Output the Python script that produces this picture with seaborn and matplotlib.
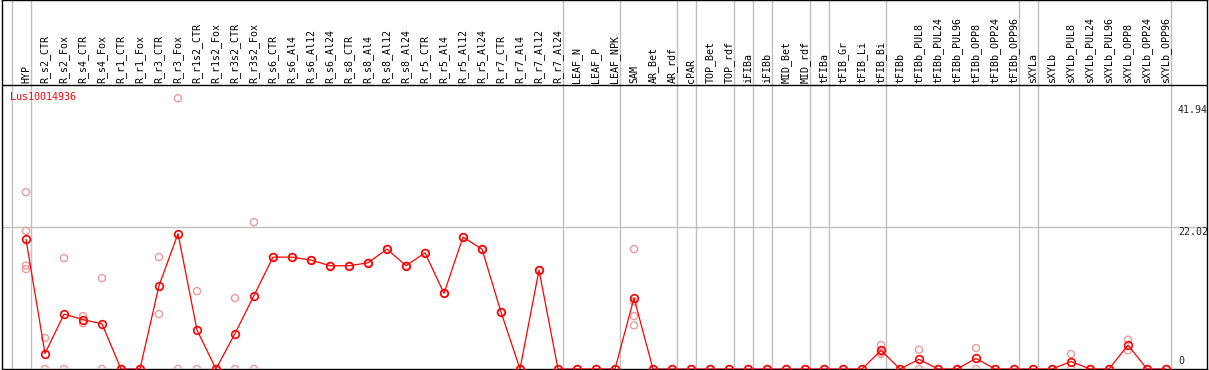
import pandas as pd
import matplotlib.pyplot as plt
import seaborn as sns

# Sample labels (one column each)
labels = ['HYP', 'R_s2_CTR', 'R_s2_Fox', 'R_s4_CTR', 'R_s4_Fox', 'R_r1_CTR', 'R_r1_Fox',
          'R_r3_CTR', 'R_r3_Fox', 'R_r1s2_CTR', 'R_r1s2_Fox', 'R_r3s2_CTR', 'R_r3s2_Fox',
          'R_s6_CTR', 'R_s6_Al4', 'R_s6_Al12', 'R_s6_Al24', 'R_s8_CTR', 'R_s8_Al4',
          'R_s8_Al12', 'R_s8_Al24', 'R_r5_CTR', 'R_r5_Al4', 'R_r5_Al12', 'R_r5_Al24',
          'R_r7_CTR', 'R_r7_Al4', 'R_r7_Al12', 'R_r7_Al24', 'LEAF_N', 'LEAF_P', 'LEAF_NPK',
          'SAM', 'AR_Bet', 'AR_rdf', 'cPAR', 'TOP_Bet', 'TOP_rdf', 'iFIBa', 'iFIBb',
          'MID_Bet', 'MID_rdf', 'tFIBa', 'tFIB_Gr', 'tFIB_Li', 'tFIB_Bi', 'tFIBb',
          'tFIBb_PUL8', 'tFIBb_PUL24', 'tFIBb_PUL96', 'tFIBb_OPP8', 'tFIBb_OPP24',
          'tFIBb_OPP96', 'sXYLa', 'sXYLb', 'sXYLb_PUL8', 'sXYLb_PUL24', 'sXYLb_PUL96',
          'sXYLb_OPP8', 'sXYLb_OPP24', 'sXYLb_OPP96']

# Mean expression per sample
means = [20.1, 2.4, 8.5, 7.65, 7.0, 0, 0, 12.9, 20.97, 6.04, 0, 5.5, 11.38,
         17.33, 17.33, 16.87, 16.0, 16.0, 16.45, 18.58, 16.0, 18.0, 11.73, 20.43, 18.58,
         8.82, 0, 15.32, 0, 0, 0, 0,
         11.0, 0, 0, 0, 0, 0, 0, 0, 0, 0, 0, 0, 0, 2.88, 0,
         1.5, 0, 0, 1.63, 0, 0, 0, 0, 1.16, 0, 0, 3.71, 0, 0]

# Individual replicate values per sample
replicates = [[27.4, 21.4, 16.04, 15.48], [4.8, 0], [17.18, 0], [8.2, 7.1], [14.09, 0],
              [0, 0], [0, 0], [17.34, 8.51], [41.94, 0], [12.07, 0], [0, 0], [10.99, 0],
              [22.75, 0],
              [17.33], [17.33], [16.87], [16.0], [16.0], [16.45], [18.58], [16.0], [18.0],
              [11.73], [20.43], [18.58], [8.82], [0], [15.32], [0],
              [0], [0], [0],
              [18.58, 10.46, 8.2, 6.75], [0], [0], [0], [0], [0], [0], [0], [0], [0], [0],
              [0], [0], [3.71, 2.6, 2.33], [0],
              [2.99, 0], [0], [0], [3.25, 0], [0], [0], [0], [0], [2.32, 0], [0], [0],
              [4.54, 2.88], [0], [0]]

# last column index of each sample group (separators)
group_ends = [-1, 0, 28, 31, 34, 35, 37, 38, 39, 41, 42, 45, 52, 53, 60]
scale_labels = [41.94, 22.02, 0]
gene = 'Lus10014936'

sns.set_style('white')
plt.rcParams['font.family'] = ['DejaVu Sans Mono']

mean_df = pd.DataFrame({'pos': range(len(labels)), 'value': means})
rep_df = pd.DataFrame([(i, v) for i, reps in enumerate(replicates) for v in reps],
                      columns=['pos', 'value'])

fig = plt.figure(figsize=(12.09, 3.70), dpi=100)
ax = fig.add_axes([2 / 1209, 1 / 370, 1205 / 1209, 369 / 370])

ax.set_xlim(-1.263, 62.158)
ax.set_ylim(0, 57.17)
header_y = 44.0

for g in group_ends:
    ax.axvline(g + 0.25, color='#c0c0c0', lw=1, zorder=1)
ax.axhline(scale_labels[1], color='#c0c0c0', lw=1, zorder=1)
ax.axhline(header_y, color='black', lw=1, zorder=2)

sns.scatterplot(data=rep_df, x='pos', y='value', ax=ax, marker='o', s=26,
                color='#ee9a9a', facecolors='none', edgecolor='#ee9a9a',
                linewidth=1.0, zorder=3, legend=False)
sns.lineplot(data=mean_df, x='pos', y='value', ax=ax, color='red', lw=0.9,
             marker='o', markersize=5.5, markerfacecolor='none', markeredgecolor='red',
             markeredgewidth=1.2, zorder=4, legend=False)

for i, lab in enumerate(labels):
    ax.text(i, header_y + 0.35, lab, rotation=90, ha='center', va='bottom',
            fontsize=7.2, color='black')

ax.text(-0.842, 42.15, gene, color='red', fontsize=7.2, ha='left', va='center')

offsets = {41.94: -5, 22.02: 0}
for v in scale_labels:
    if v == 0:
        ax.annotate(f'{v:g}', xy=(60.63, v), xytext=(0, 2), textcoords='offset points',
                    fontsize=7.2, ha='left', va='bottom')
    else:
        ax.annotate(f'{v:.2f}', xy=(60.63, v), xytext=(0, offsets[v]),
                    textcoords='offset points', fontsize=7.2, ha='left', va='top')

ax.set_xlabel('')
ax.set_ylabel('')
ax.set_xticks([])
ax.set_yticks([])
for s in ax.spines.values():
    s.set_color('black')
    s.set_linewidth(1)

fig.savefig('out.png', dpi=100)
